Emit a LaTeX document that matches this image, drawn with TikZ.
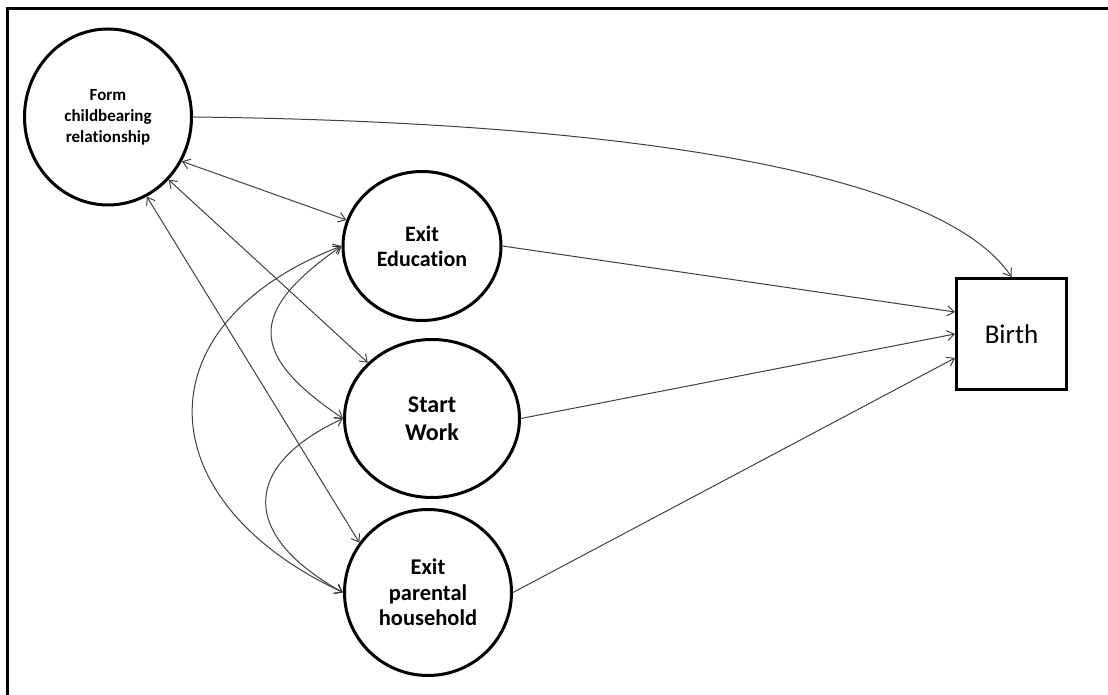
\documentclass[tikz,border=0pt]{standalone}
\usepackage{fontspec}
\setmainfont{Carlito}[Ligatures=NoCommon]
\usetikzlibrary{shapes.geometric,arrows.meta}
\begin{document}
\begin{tikzpicture}[x=1pt,y=1pt,
  latent/.style={ellipse, draw=black, line width=3pt, inner sep=0pt, align=center},
  outcome/.style={rectangle, draw=black, line width=3pt, inner sep=0pt},
  conn/.style={draw=black!75, line width=1pt},
  oneway/.style={-{Straight Barb[length=7pt,width=10pt]}},
  corr/.style={{Straight Barb[length=7pt,width=10pt]}-{Straight Barb[length=7pt,width=10pt]}}]
\useasboundingbox (0,0) rectangle (1108,695);
\draw[line width=3.5pt] (7.5,0) -- (7.5,686.5) -- (1108,686.5);

\node[latent, minimum width=167pt, minimum height=176pt, font=\bfseries\fontsize{17}{21}\selectfont] (form) at (108,578) {Form\\childbearing\\relationship};
\node[latent, minimum width=158pt, minimum height=149pt, font=\bfseries\fontsize{22}{25}\selectfont] (edu) at (422,449) {Exit\\Education};
\node[latent, minimum width=175pt, minimum height=158pt, font=\bfseries\fontsize{24}{28}\selectfont] (work) at (432,276.5) {Start\\Work};
\node[latent, minimum width=167pt, minimum height=166pt, font=\bfseries\fontsize{22.5}{25.5}\selectfont] (par) at (428,102.5) {Exit\\parental\\household};
\node[outcome, minimum width=110pt, minimum height=111pt, font=\fontsize{27}{32}\selectfont] (birth) at (1011.5,361) {Birth};

\draw[conn, corr] (form.-31) -- (edu.161.6);
\draw[conn, corr] (form.-46) -- (work.139);
\draw[conn, corr] (form.-64) -- (par.144);
\draw[conn, corr] (edu.west) to[out=215,in=146,looseness=1.7] (work.west);
\draw[conn, corr] (edu.west) to[out=201,in=155,looseness=1.6] (par.west);
\draw[conn, corr] (work.west) to[out=205,in=151,looseness=1.7] (par.west);
\draw[conn, oneway] (edu.east) -- ([yshift=22pt]birth.west);
\draw[conn, oneway] (work.east) -- (birth.west);
\draw[conn, oneway] (par.east) -- ([yshift=-24pt]birth.west);
\draw[conn, oneway] (form.east) .. controls +(437,-5) and +(-69,104) .. (birth.north);
\end{tikzpicture}
\end{document}
